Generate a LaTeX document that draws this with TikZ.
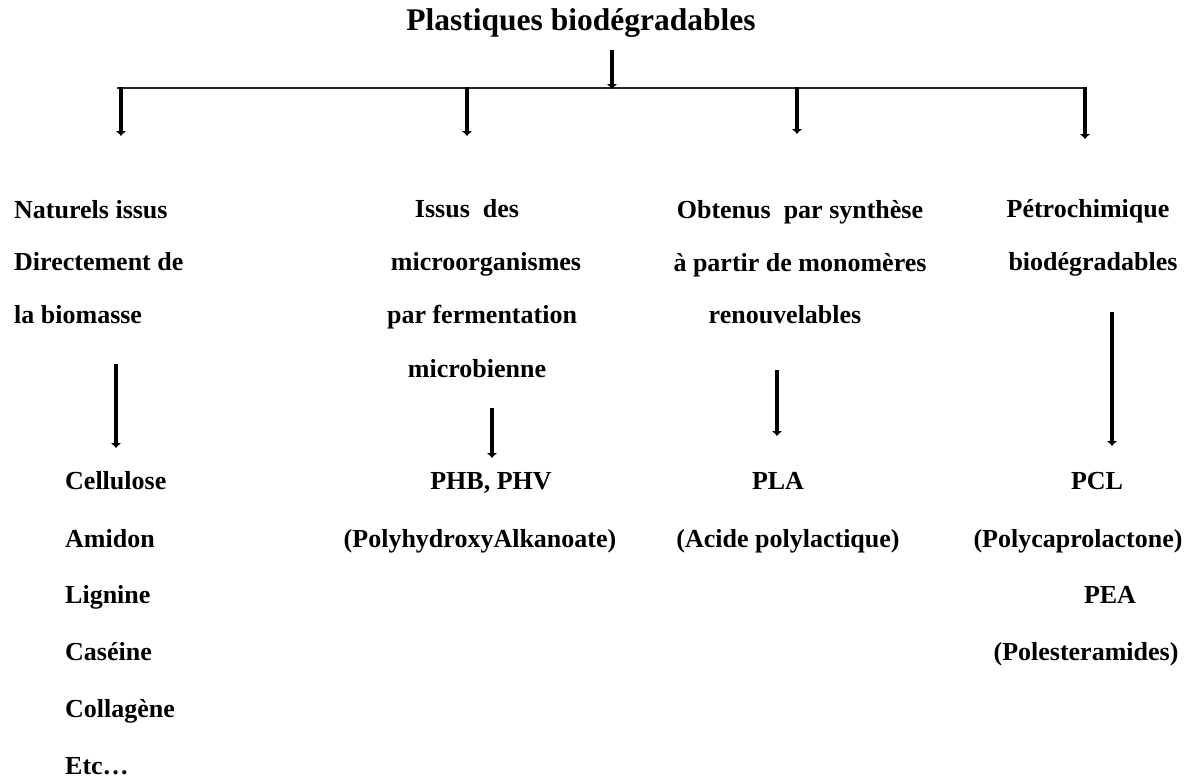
\documentclass[tikz,border=0pt]{standalone}
\usepackage{fontspec}
\setmainfont{Liberation Serif}
\usetikzlibrary{arrows.meta}
\begin{document}
\begin{tikzpicture}[x=1pt,y=-1pt,
  txt/.style={font=\fontsize{26}{30}\selectfont\bfseries, inner sep=0pt, anchor=base},
  lefttxt/.style={txt, anchor=base west},
  titletxt/.style={font=\fontsize{31.5}{36}\selectfont\bfseries, inner sep=0pt, anchor=base},
  bigarrow/.style={line width=4.6pt, -{Latex[length=5pt,width=11pt]}},
  hline/.style={line width=1.4pt, black!85}]
\useasboundingbox (0,0) rectangle (1193,780);

% title
\node[titletxt] (title) at (581,30) {Plastiques biodégradables};

% top arrow and horizontal bar
\coordinate (topstart) at (612,50);
\coordinate (topend) at (612,89);
\coordinate (barL) at (117,88);
\coordinate (barR) at (1087,88);
\draw[hline] (barL) -- (barR);
\draw[bigarrow] (topstart) -- (topend);

% branch arrows
\coordinate (b1s) at (121,87); \coordinate (b1e) at (121,136);
\coordinate (b2s) at (467,87); \coordinate (b2e) at (467,136);
\coordinate (b3s) at (797,87); \coordinate (b3e) at (797,134);
\coordinate (b4s) at (1085,87); \coordinate (b4e) at (1085,139);
\draw[bigarrow] (b1s) -- (b1e);
\draw[bigarrow] (b2s) -- (b2e);
\draw[bigarrow] (b3s) -- (b3e);
\draw[bigarrow] (b4s) -- (b4e);

% column 1
\node[lefttxt] (c1a) at (14,218) {Naturels issus};
\node[lefttxt] (c1b) at (14,270) {Directement de};
\node[lefttxt] (c1c) at (14,323) {la biomasse};
\coordinate (a1s) at (116,364); \coordinate (a1e) at (116,448);
\draw[bigarrow] (a1s) -- (a1e);
\node[lefttxt] (l1) at (65,489) {Cellulose};
\node[lefttxt] (l2) at (65,547) {Amidon};
\node[lefttxt] (l3) at (65,603) {Lignine};
\node[lefttxt] (l4) at (65,660) {Caséine};
\node[lefttxt] (l5) at (65,717) {Collagène};
\node[lefttxt] (l6) at (65,774) {Etc…};

% column 2
\node[txt] (c2a) at (467,217) {Issus\ \ des};
\node[txt] (c2b) at (486,270) {microorganismes};
\node[txt] (c2c) at (482,323) {par fermentation};
\node[txt] (c2d) at (477,377) {microbienne};
\coordinate (a2s) at (492,408); \coordinate (a2e) at (492,458);
\draw[bigarrow] (a2s) -- (a2e);
\node[txt] (r2a) at (491,489) {PHB, PHV};
\node[txt] (r2b) at (480,547) {(PolyhydroxyAlkanoate)};

% column 3
\node[txt] (c3a) at (800,218) {Obtenus\ \ par synthèse};
\node[txt] (c3b) at (800,271) {à partir de monomères};
\node[txt] (c3c) at (785,323) {renouvelables};
\coordinate (a3s) at (777,370); \coordinate (a3e) at (777,436);
\draw[bigarrow] (a3s) -- (a3e);
\node[txt] (r3a) at (778,489) {PLA};
\node[txt] (r3b) at (788,547) {(Acide polylactique)};

% column 4
\node[txt] (c4a) at (1088,217) {Pétrochimique};
\node[txt] (c4b) at (1093,270) {biodégradables};
\coordinate (a4s) at (1112,312); \coordinate (a4e) at (1112,446);
\draw[bigarrow] (a4s) -- (a4e);
\node[txt] (r4a) at (1097,489) {PCL};
\node[txt] (r4b) at (1078,547) {(Polycaprolactone)};
\node[txt] (r4c) at (1110,603) {PEA};
\node[txt] (r4d) at (1086,660) {(Polesteramides)};
\end{tikzpicture}
\end{document}
